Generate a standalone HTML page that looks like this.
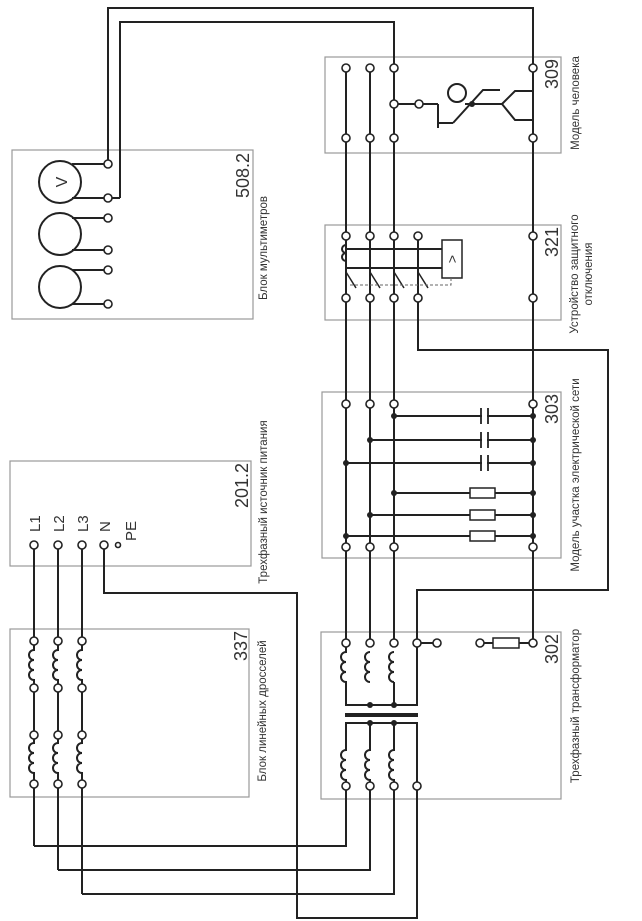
<!DOCTYPE html>
<html><head><meta charset="utf-8"><style>
html,body{margin:0;padding:0;background:#fff;}
svg{display:block;}
text{font-family:"Liberation Sans",sans-serif;fill:#333;}
</style></head><body>
<svg width="642" height="921" viewBox="0 0 642 921" xmlns="http://www.w3.org/2000/svg">
<defs>
<g id="coil"><line x1="0" y1="1" x2="0" y2="29" stroke="#fff" stroke-width="5"/><path d="M0,0 a5,5 0 0 0 0,10 a5,5 0 0 0 0,10 a5,5 0 0 0 0,10" fill="none" stroke="#222" stroke-width="2"/></g>
</defs>
<g fill="none" stroke="#999" stroke-width="1.2">
<rect x="12" y="150" width="241" height="169"/>
<rect x="10" y="461" width="241" height="105"/>
<rect x="10" y="629" width="239" height="168"/>
<rect x="325" y="57" width="236" height="96"/>
<rect x="325" y="225" width="236" height="95"/>
<rect x="322" y="392" width="239" height="166"/>
<rect x="321" y="632" width="240" height="167"/>
</g>
<g fill="none" stroke="#222" stroke-width="2">
<polyline points="108,164 108,8 533,8 533,68"/>
<polyline points="120,198 120,22 394,22 394,68"/>
<circle cx="60" cy="182" r="21"/><circle cx="60" cy="234" r="21"/><circle cx="60" cy="287" r="21"/>
<line x1="72" y1="164" x2="108" y2="164"/><line x1="72" y1="198" x2="120" y2="198"/>
<line x1="72" y1="218" x2="108" y2="218"/><line x1="72" y1="250" x2="108" y2="250"/>
<line x1="72" y1="270" x2="108" y2="270"/><line x1="72" y1="304" x2="108" y2="304"/>
<line x1="346" y1="68" x2="346" y2="643"/><line x1="370" y1="68" x2="370" y2="643"/><line x1="394" y1="68" x2="394" y2="643"/>
<line x1="533" y1="68" x2="533" y2="643"/>
<line x1="418" y1="236" x2="418" y2="298"/>
<polyline points="418,298 418,350 608,350 608,590 417,590 417,643"/>
<line x1="394" y1="104" x2="438" y2="104"/>
<polyline points="438,104 438,128"/>
<line x1="438" y1="123" x2="453" y2="123"/>
<polyline points="453,123 483,90 500,90"/>
<line x1="465" y1="104" x2="502" y2="104"/>
<polyline points="533,91 515,91 502,104 515,120 533,120"/>
<circle cx="457" cy="93" r="9"/>
<path d="M346,245 a4,4 0 0 0 0,8 a4,4 0 0 0 0,8"/>
<line x1="346" y1="249" x2="442" y2="249"/><line x1="346" y1="268" x2="442" y2="268"/>
<rect x="442" y="240" width="20" height="38" stroke-width="1.5"/>
<line x1="346" y1="272" x2="356" y2="288" stroke-width="1.5"/>
<line x1="370" y1="272" x2="380" y2="288" stroke-width="1.5"/>
<line x1="394" y1="272" x2="404" y2="288" stroke-width="1.5"/>
<line x1="418" y1="272" x2="428" y2="288" stroke-width="1.5"/>
<line x1="394" y1="416" x2="482" y2="416"/><line x1="487" y1="416" x2="533" y2="416"/>
<line x1="370" y1="440" x2="482" y2="440"/><line x1="487" y1="440" x2="533" y2="440"/>
<line x1="346" y1="463" x2="482" y2="463"/><line x1="487" y1="463" x2="533" y2="463"/>
<line x1="394" y1="493" x2="533" y2="493"/><line x1="370" y1="515" x2="533" y2="515"/><line x1="346" y1="536" x2="533" y2="536"/>
<line x1="34" y1="545" x2="34" y2="846"/><line x1="58" y1="545" x2="58" y2="870"/><line x1="82" y1="545" x2="82" y2="894"/>
<polyline points="34,846 346,846 346,786"/>
<polyline points="58,870 370,870 370,786"/>
<polyline points="82,894 394,894 394,786"/>
<polyline points="104,545 104,593 297,593 297,918 417,918 417,786"/>
<polyline points="346,682 346,705 417,705 417,643"/>
<line x1="346" y1="643" x2="346" y2="682"/>
<line x1="394" y1="682" x2="394" y2="705"/>
<line x1="345" y1="715" x2="418" y2="715" stroke-width="4"/>
<polyline points="346,750 346,723 417,723 417,786"/>
<line x1="370" y1="723" x2="370" y2="786"/><line x1="394" y1="723" x2="394" y2="786"/><line x1="346" y1="750" x2="346" y2="786"/>
<line x1="417" y1="643" x2="437" y2="643"/>
<line x1="480" y1="643" x2="533" y2="643"/>
</g>
<!-- erase line segments between transformer windings -->
<g stroke="#fff" stroke-width="5">
<line x1="346" y1="708" x2="346" y2="720"/><line x1="370" y1="708" x2="370" y2="720"/><line x1="394" y1="708" x2="394" y2="720"/>
</g>
<line x1="345" y1="715" x2="418" y2="715" stroke="#222" stroke-width="4"/>
<g fill="#fff" stroke="#222" stroke-width="1.5">
<rect x="493" y="638" width="26" height="10"/>
<rect x="470" y="488" width="25" height="10"/><rect x="470" y="510" width="25" height="10"/><rect x="470" y="531" width="25" height="10"/>
</g>
<path d="M481,408 v16 M488,408 v16 M481,432 v16 M488,432 v16 M481,455 v16 M488,455 v16" stroke="#222" stroke-width="1.8"/>
<path d="M350,285 H451 V278" fill="none" stroke="#666" stroke-width="1" stroke-dasharray="3,2"/>
<g>
<use href="#coil" x="34" y="650"/><use href="#coil" x="58" y="650"/><use href="#coil" x="82" y="650"/>
<use href="#coil" x="34" y="743"/><use href="#coil" x="58" y="743"/><use href="#coil" x="82" y="743"/>
<use href="#coil" x="346" y="652"/><use href="#coil" x="370" y="652"/><use href="#coil" x="394" y="652"/>
<use href="#coil" x="346" y="750"/><use href="#coil" x="370" y="750"/><use href="#coil" x="394" y="750"/>
</g>
<g fill="#222">
<circle cx="472" cy="104" r="3"/>
<circle cx="394" cy="416" r="3"/><circle cx="533" cy="416" r="3"/>
<circle cx="370" cy="440" r="3"/><circle cx="533" cy="440" r="3"/>
<circle cx="346" cy="463" r="3"/><circle cx="533" cy="463" r="3"/>
<circle cx="394" cy="493" r="3"/><circle cx="533" cy="493" r="3"/>
<circle cx="370" cy="515" r="3"/><circle cx="533" cy="515" r="3"/>
<circle cx="346" cy="536" r="3"/><circle cx="533" cy="536" r="3"/>
<circle cx="370" cy="705" r="3"/><circle cx="394" cy="705" r="3"/>
<circle cx="370" cy="723" r="3"/><circle cx="394" cy="723" r="3"/>
</g>
<g fill="#fff" stroke="#222" stroke-width="1.6">
<circle cx="108" cy="164" r="4"/><circle cx="108" cy="198" r="4"/><circle cx="108" cy="218" r="4"/><circle cx="108" cy="250" r="4"/><circle cx="108" cy="270" r="4"/><circle cx="108" cy="304" r="4"/>
<circle cx="34" cy="545" r="4"/><circle cx="58" cy="545" r="4"/><circle cx="82" cy="545" r="4"/><circle cx="104" cy="545" r="4"/>
<circle cx="118" cy="545" r="2.5"/>
<circle cx="34" cy="641" r="4"/><circle cx="58" cy="641" r="4"/><circle cx="82" cy="641" r="4"/>
<circle cx="34" cy="688" r="4"/><circle cx="58" cy="688" r="4"/><circle cx="82" cy="688" r="4"/>
<circle cx="34" cy="735" r="4"/><circle cx="58" cy="735" r="4"/><circle cx="82" cy="735" r="4"/>
<circle cx="34" cy="784" r="4"/><circle cx="58" cy="784" r="4"/><circle cx="82" cy="784" r="4"/>
<circle cx="346" cy="68" r="4"/><circle cx="370" cy="68" r="4"/><circle cx="394" cy="68" r="4"/><circle cx="533" cy="68" r="4"/>
<circle cx="394" cy="104" r="4"/><circle cx="419" cy="104" r="4"/>
<circle cx="346" cy="138" r="4"/><circle cx="370" cy="138" r="4"/><circle cx="394" cy="138" r="4"/><circle cx="533" cy="138" r="4"/>
<circle cx="346" cy="236" r="4"/><circle cx="370" cy="236" r="4"/><circle cx="394" cy="236" r="4"/><circle cx="418" cy="236" r="4"/><circle cx="533" cy="236" r="4"/>
<circle cx="346" cy="298" r="4"/><circle cx="370" cy="298" r="4"/><circle cx="394" cy="298" r="4"/><circle cx="418" cy="298" r="4"/><circle cx="533" cy="298" r="4"/>
<circle cx="346" cy="404" r="4"/><circle cx="370" cy="404" r="4"/><circle cx="394" cy="404" r="4"/><circle cx="533" cy="404" r="4"/>
<circle cx="346" cy="547" r="4"/><circle cx="370" cy="547" r="4"/><circle cx="394" cy="547" r="4"/><circle cx="533" cy="547" r="4"/>
<circle cx="346" cy="643" r="4"/><circle cx="370" cy="643" r="4"/><circle cx="394" cy="643" r="4"/><circle cx="417" cy="643" r="4"/><circle cx="437" cy="643" r="4"/>
<circle cx="480" cy="643" r="4"/><circle cx="533" cy="643" r="4"/>
<circle cx="346" cy="786" r="4"/><circle cx="370" cy="786" r="4"/><circle cx="394" cy="786" r="4"/><circle cx="417" cy="786" r="4"/>
</g>
<g font-size="13">
<text transform="translate(67,182) rotate(-90)" text-anchor="middle" font-size="16">V</text>
<text transform="translate(457,259) rotate(-90)" text-anchor="middle" font-size="14">&gt;</text>
<text transform="translate(40,532) rotate(-90)" font-size="15">L1</text>
<text transform="translate(64,532) rotate(-90)" font-size="15">L2</text>
<text transform="translate(88,532) rotate(-90)" font-size="15">L3</text>
<text transform="translate(110,532) rotate(-90)" font-size="15">N</text>
<text transform="translate(136,541) rotate(-90)" font-size="15">PE</text>
</g>
<g font-size="18" text-anchor="end">
<text transform="translate(249,153) rotate(-90)">508.2</text>
<text transform="translate(248,463) rotate(-90)">201.2</text>
<text transform="translate(247,631) rotate(-90)">337</text>
<text transform="translate(558,59) rotate(-90)">309</text>
<text transform="translate(558,227) rotate(-90)">321</text>
<text transform="translate(558,394) rotate(-90)">303</text>
<text transform="translate(558,634) rotate(-90)">302</text>
</g>
<g font-size="11.5" text-anchor="middle">
<text transform="translate(267,248) rotate(-90)">Блок мультиметров</text>
<text transform="translate(267,502) rotate(-90)">Трехфазный источник питания</text>
<text transform="translate(266,711) rotate(-90)">Блок линейных дросселей</text>
<text transform="translate(579,103) rotate(-90)">Модель человека</text>
<text transform="translate(578,274) rotate(-90)">Устройство защитного</text>
<text transform="translate(592,274) rotate(-90)">отключения</text>
<text transform="translate(579,475) rotate(-90)">Модель участка электрической сети</text>
<text transform="translate(579,706) rotate(-90)">Трехфазный трансформатор</text>
</g>
</svg>
</body></html>
